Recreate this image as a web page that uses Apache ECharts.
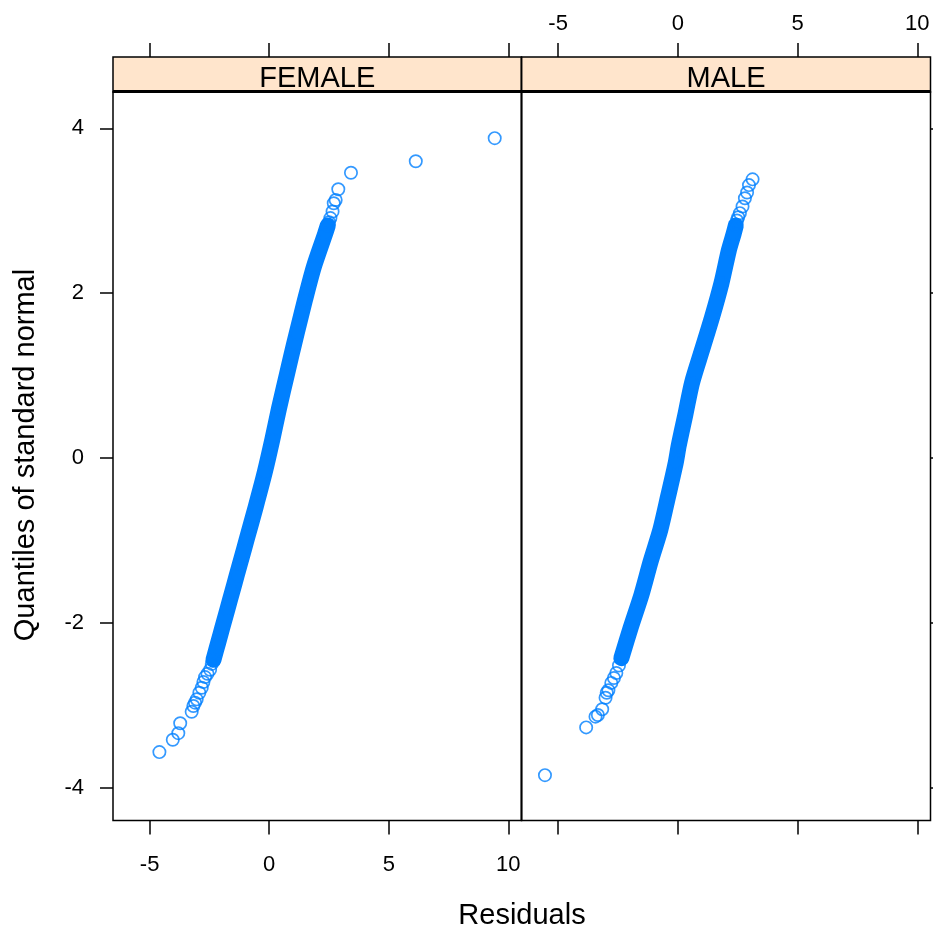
<!DOCTYPE html>
<html><head><meta charset="utf-8">
<script src="https://cdn.jsdelivr.net/npm/echarts@6/dist/echarts.min.js"></script>
<style>html,body{margin:0;padding:0;background:#fff}#c{width:933px;height:932px}</style>
</head><body><div id="c"></div>
<script>
const panels = ['FEMALE', 'MALE'];
const xTicks = [-5, 0, 5, 10];
const yTicks = [-4, -2, 0, 2, 4];

// dense centre line of the overlapping circles [residual, quantile]
const femaleBand = [[-2.33,-2.45],[-2.13,-2.24],[-1.96,-2.06],[-1.75,-1.84],[-1.54,-1.62],[-1.36,-1.43],[-1.15,-1.21],[-0.94,-0.99],[-0.56,-0.59],[-0.18,-0.17],[0.13,0.22],[0.41,0.60],[0.74,1.01],[0.94,1.26],[1.15,1.51],[1.50,1.92],[1.87,2.32],[2.34,2.72],[2.45,2.82]];
// individually visible circles
const femalePoints = [[-4.59,-3.57],[-4.03,-3.42],[-3.80,-3.34],[-3.72,-3.22],[-3.24,-3.08],[-3.17,-3.01],[-3.10,-2.97],[-3.03,-2.93],[-2.92,-2.85],[-2.82,-2.79],[-2.75,-2.72],[-2.68,-2.66],[-2.58,-2.62],[-2.47,-2.57],[-2.40,-2.50],[2.50,2.86],[2.56,2.91],[2.65,2.99],[2.70,3.09],[2.78,3.13],[2.89,3.26],[3.42,3.46],[6.13,3.60],[9.43,3.88]];

const maleBand = [[-2.36,-2.43],[-1.97,-2.06],[-1.52,-1.66],[-1.14,-1.26],[-0.73,-0.87],[-0.41,-0.47],[-0.09,-0.06],[0.03,0.14],[0.16,0.32],[0.31,0.52],[0.59,0.91],[1.01,1.31],[1.43,1.71],[1.82,2.12],[2.13,2.52],[2.33,2.72],[2.42,2.82]];
const malePoints = [[-5.55,-3.85],[-3.83,-3.27],[-3.44,-3.14],[-3.34,-3.12],[-3.16,-3.05],[-3.02,-2.91],[-2.97,-2.85],[-2.90,-2.82],[-2.78,-2.73],[-2.67,-2.67],[-2.57,-2.61],[-2.46,-2.52],[2.47,2.88],[2.52,2.92],[2.59,2.97],[2.70,3.05],[2.80,3.15],[2.89,3.22],[2.97,3.31],[3.12,3.38]];

const X_MIN = -6.53, X_MAX = 10.55, Y_MIN = -4.40, Y_MAX = 4.44;
const FONT = '"Liberation Sans", Arial, sans-serif';
const BLUE = '#0080ff';
const P_TOP = 92, P_BOT = 820.5, S_TOP = 57;
const G = [{left: 113, width: 408.5}, {left: 521.5, width: 409}];

const chart = echarts.init(document.getElementById('c'), null, {renderer: 'canvas'});

function xAxis(gi, pos, labels) {
  return {
    type: 'value', gridIndex: gi, position: pos, min: X_MIN, max: X_MAX,
    offset: pos === 'top' ? (P_TOP - S_TOP) : 0,
    splitLine: {show: false},
    axisLine: {show: false, onZero: false},
    axisTick: {show: true, inside: false, length: 14, customValues: xTicks, lineStyle: {color: '#000', width: 1.5}},
    axisLabel: {show: labels, customValues: xTicks, color: '#000', fontFamily: FONT, fontSize: 22,
      margin: pos === 'top' ? 22 : 33}
  };
}
function yAxis(gi, pos, labels) {
  return {
    type: 'value', gridIndex: gi, position: pos, min: Y_MIN, max: Y_MAX,
    splitLine: {show: false},
    axisLine: {show: false, onZero: false},
    axisTick: {show: true, inside: false, length: 13, customValues: yTicks, lineStyle: {color: '#000', width: 1.5}},
    axisLabel: {show: labels, customValues: yTicks, color: '#000', fontFamily: FONT, fontSize: 22, margin: 29}
  };
}

const bands = [femaleBand, maleBand];
const pts = [femalePoints, malePoints];
const series = [];
[0, 1].forEach(i => {
  series.push({
    type: 'line', xAxisIndex: i * 2, yAxisIndex: i, data: bands[i], symbol: 'none', smooth: 0.25,
    lineStyle: {color: BLUE, width: 16, cap: 'round', join: 'round'}, z: 2, silent: true
  });
  series.push({
    type: 'scatter', xAxisIndex: i * 2, yAxisIndex: i, data: pts[i].concat(bands[i]), symbol: 'circle', symbolSize: 12.3,
    itemStyle: {color: 'rgba(0,0,0,0)', borderColor: BLUE, borderWidth: 1.7}, z: 3, silent: true
  });
});

const graphics = [];
G.forEach((g, i) => {
  graphics.push({type: 'rect', shape: {x: g.left, y: S_TOP, width: g.width, height: P_TOP - S_TOP},
    style: {fill: '#ffe5cc', stroke: '#000', lineWidth: 1.5}, z: 1});
  graphics.push({type: 'text', x: g.left + g.width / 2, y: (S_TOP + P_TOP) / 2 + 4,
    style: {text: panels[i], fill: '#000', font: '29px ' + FONT, textAlign: 'center', textVerticalAlign: 'middle'}, z: 5});
});
graphics.push({type: 'line', shape: {x1: 113, y1: P_TOP - 0.5, x2: 930.5, y2: P_TOP - 0.5}, style: {stroke: '#000', lineWidth: 3}, z: 6});
graphics.push({type: 'line', shape: {x1: 521.5, y1: S_TOP, x2: 521.5, y2: P_BOT}, style: {stroke: '#000', lineWidth: 1.5}, z: 6});
graphics.push({type: 'text', x: 522, y: 916,
  style: {text: 'Residuals', fill: '#000', font: '29px ' + FONT, textAlign: 'center', textVerticalAlign: 'middle'}, z: 5});
graphics.push({type: 'text', x: 26, y: 455, rotation: Math.PI / 2,
  style: {text: 'Quantiles of standard normal', fill: '#000', font: '29px ' + FONT, textAlign: 'center', textVerticalAlign: 'middle'}, z: 5});

chart.setOption({
  animation: false,
  backgroundColor: '#fff',
  grid: G.map(g => ({left: g.left, width: g.width, top: P_TOP, height: P_BOT - P_TOP, show: true,
    borderColor: '#000', borderWidth: 1.5, backgroundColor: 'transparent', containLabel: false, outerBoundsMode: 'none'})),
  xAxis: [xAxis(0, 'bottom', true), xAxis(0, 'top', false), xAxis(1, 'bottom', false), xAxis(1, 'top', true)],
  yAxis: [yAxis(0, 'left', true), yAxis(1, 'right', false)],
  series: series,
  graphic: graphics
});
</script>
</body></html>
